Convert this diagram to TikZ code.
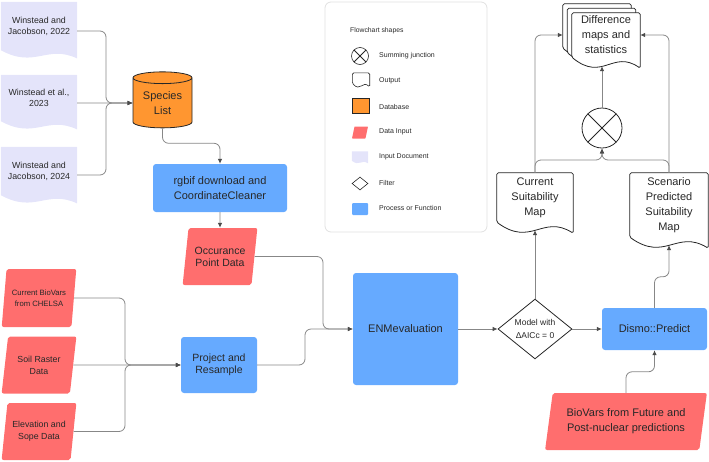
\documentclass[tikz,border=0pt]{standalone}
\usepackage{fontspec}
\setmainfont{Liberation Sans}
\usepackage{xcolor}
\usetikzlibrary{arrows.meta, positioning, shapes.geometric, calc, backgrounds}

\definecolor{procblue}{RGB}{102,170,255}
\definecolor{datared}{RGB}{255,110,110}
\definecolor{dborange}{RGB}{255,150,48}
\definecolor{doclav}{RGB}{228,228,250}
\definecolor{linegray}{RGB}{135,135,135}
\definecolor{tipgray}{RGB}{75,75,75}
\definecolor{legendgray}{RGB}{225,225,225}
\definecolor{textdark}{RGB}{40,40,40}

% wavy-bottom document outline below a node (#1 = wave size, #2 = node, #3 = look)
\newcommand{\docshape}[3][1]{%
  \path[#3] (#2.south west) -- (#2.north west) -- (#2.north east)
    -- ([yshift={-11pt*#1}]#2.south east)
    .. controls ($(#2.south west)!.6!(#2.south east)+(0,{-8*#1})$)
    and ($(#2.south west)!.45!(#2.south east)+(0,{25*#1})$) .. (#2.south west) -- cycle;}

\begin{document}
\begin{tikzpicture}[
    x=1pt, y=-1pt,
    font=\fontsize{11}{15}\selectfont, text=textdark,
    indoc/.style={rectangle, inner sep=0pt, minimum width=76pt, align=center, font=\fontsize{8.8}{11}\selectfont},
    outdoc/.style={rectangle, inner sep=0pt, align=center},
    proc/.style={rectangle, fill=procblue, rounded corners=3pt, inner sep=0pt, align=center},
    datain/.style={trapezium, trapezium left angle=77, trapezium right angle=103, trapezium stretches=true,
        fill=datared, rounded corners=2pt, inner sep=1pt, align=center},
    db/.style={cylinder, shape border rotate=90, aspect=0.3, draw=black!85, line width=0.8pt,
        cylinder uses custom fill, cylinder body fill=dborange, cylinder end fill=dborange, inner sep=0pt, align=center},
    filter/.style={diamond, draw=black!85, line width=0.8pt, fill=white, inner sep=0pt, align=center},
    sumj/.style={circle, draw=black!85, line width=0.8pt, inner sep=0pt,
        path picture={\draw[black!85, line width=0.8pt] (path picture bounding box.north west) -- (path picture bounding box.south east)
            (path picture bounding box.north east) -- (path picture bounding box.south west);}},
    lavdoc/.style={fill=doclav},
    whitedoc/.style={fill=white, draw=black!85, line width=0.8pt, rounded corners=1.5pt},
    lgtext/.style={anchor=west, inner sep=0pt, font=\fontsize{7}{8}\selectfont},
    conn/.style={draw=linegray, line width=0.8pt, rounded corners=6pt, -{Latex[length=5pt,width=4.5pt,color=tipgray]}}
]
\useasboundingbox (0,0) rectangle (709,461);

% Literature documents
\node[indoc, minimum height=48pt] (d1) at (39, 26) {Winstead and\\Jacobson, 2022};
\node[indoc, minimum height=46pt] (d2) at (39, 98) {Winstead et al.,\\2023};
\node[indoc, minimum height=48pt] (d3) at (39, 171) {Winstead and\\Jacobson, 2024};
\node[db, minimum width=59pt, minimum height=56pt] (spec) at (162.5, 103) {Species\\List};
\node[proc, minimum width=134pt, minimum height=48pt] (rgbif) at (220, 188) {rgbif download and\\CoordinateCleaner};
\node[datain, minimum width=75pt, minimum height=57pt, font=\fontsize{10.5}{12}\selectfont] (occ) at (220, 256.5) {Occurance\\Point Data};

% Environmental layers
\node[datain, minimum width=75pt, minimum height=58pt, font=\fontsize{7.7}{10.5}\selectfont] (bio1) at (39, 298) {Current BioVars\\from CHELSA};
\node[datain, minimum width=75pt, minimum height=57pt, font=\fontsize{8.8}{12}\selectfont] (bio2) at (39, 365) {Soil Raster\\Data};
\node[datain, minimum width=75pt, minimum height=57pt, font=\fontsize{8.8}{12}\selectfont] (bio3) at (39, 431.5) {Elevation and\\Sope Data};
\node[proc, minimum width=76pt, minimum height=56pt, font=\fontsize{10.5}{12}\selectfont] (proj) at (219, 365) {Project and\\Resample};

% Modelling
\node[proc, minimum width=105pt, minimum height=112pt] (enm) at (405.5, 329) {ENMevaluation};
\node[filter, minimum width=74pt, minimum height=56pt, font=\fontsize{8.5}{13}\selectfont] (dia) at (535, 329) {Model with\\ΔAICc = 0};
\node[proc, minimum width=105pt, minimum height=42pt] (dismo) at (654.5, 329) {Dismo::Predict};
\node[datain, minimum width=162pt, minimum height=57pt] (fut) at (626, 421.5) {BioVars from Future and\\Post-nuclear predictions};

% Outputs
\node[outdoc, minimum width=76pt, minimum height=49pt] (cur) at (535, 197.5) {Current\\Suitability\\Map};
\node[outdoc, minimum width=78pt, minimum height=64pt] (scen) at (669, 205) {Scenario\\Predicted\\Suitability\\Map};
\node[sumj, minimum size=40pt] (circ) at (602, 128) {};
\node[outdoc, minimum width=68pt, minimum height=44pt] (diffb) at (597, 26) {};
\node[outdoc, minimum width=68pt, minimum height=44pt] (diffm) at (601.5, 30.5) {};
\node[outdoc, minimum width=68pt, minimum height=44pt] (diff) at (606, 35) {Difference\\maps and\\statistics};

% Legend
\node[draw=legendgray, line width=0.8pt, rounded corners=6pt, minimum width=162pt, minimum height=230pt] (legend) at (406, 117) {};
\node[lgtext, font=\fontsize{6.8}{8}\selectfont] (lgtitle) at (350, 31) {Flowchart shapes};
\node[sumj, minimum size=17pt, line width=0.6pt] (lsum) at (360, 56) {};
\node[outdoc, minimum width=17pt, minimum height=10pt] (lout) at (361, 78) {};
\node[db, minimum width=17pt, minimum height=15pt, line width=0.6pt] (ldb) at (361, 106) {};
\node[datain, minimum width=16pt, minimum height=12pt, rounded corners=0.5pt] (ldin) at (360, 132.5) {};
\node[outdoc, minimum width=16pt, minimum height=9pt] (ldoc) at (360, 156) {};
\node[filter, minimum width=16pt, minimum height=13pt, line width=0.6pt] (lfil) at (360, 183.5) {};
\node[proc, minimum width=16pt, minimum height=12pt, rounded corners=1pt] (lproc) at (360, 209) {};
\node[lgtext] (lt1) at (379, 56) {Summing junction};
\node[lgtext] (lt2) at (379, 81) {Output};
\node[lgtext] (lt3) at (379, 107) {Database};
\node[lgtext] (lt4) at (379, 132) {Data Input};
\node[lgtext] (lt5) at (379, 157) {Input Document};
\node[lgtext] (lt6) at (379, 183) {Filter};
\node[lgtext] (lt7) at (379, 208) {Process or Function};

% Document outlines
\begin{scope}[on background layer]
\docshape[0.75]{d1}{lavdoc}
\docshape[0.75]{d2}{lavdoc}
\docshape[0.75]{d3}{lavdoc}
\docshape{cur}{whitedoc}
\docshape{scen}{whitedoc}
\docshape{diffb}{whitedoc}
\docshape{diffm}{whitedoc}
\docshape{diff}{whitedoc}
\docshape[0.35]{lout}{whitedoc, line width=0.6pt}
\docshape[0.25]{ldoc}{lavdoc}
\end{scope}

% Junction points
\coordinate (jdoc) at (106, 103);
\coordinate (jin) at (125, 365);
\coordinate (joc) at (323, 329);
\coordinate (jpr) at (305, 329);
\coordinate (jsum) at (602, 160);

% Arrows
\draw[conn] ([yshift=-5pt]d1.east) -| (jdoc) -- (spec.west);
\draw[conn] ([yshift=-5pt]d2.east) -- (spec.west);
\draw[conn] ([yshift=-4pt]d3.east) -| (jdoc) -- (spec.west);
\draw[conn] (spec.south) -- ++(0, 15) -| (rgbif.north);
\draw[conn] (rgbif.south) -- (occ.north);

\draw[conn] (bio1.east) -| (jin) -- (proj.west);
\draw[conn] (bio2.east) -- (proj.west);
\draw[conn] (bio3.east) -| (jin) -- (proj.west);
\draw[conn] (occ.east) -| (joc) -- (enm.west);
\draw[conn] (proj.east) -| (jpr) -- (enm.west);

\draw[conn] (enm.east) -- (dia.west);
\draw[conn] (dia.east) -- (dismo.west);
\draw[conn] (dia.north) -- ([yshift=-8pt]cur.south);
\draw[conn] (fut.north) -- ++(0, -21) -| (dismo.south);
\draw[conn] (dismo.north) -- ++(0, -31) -| ([yshift=-8pt]scen.south);

\draw[conn] (cur.north) |- (diffb.west |- diff.west);
\draw[conn] (scen.north) |- (diff.east);
\draw[conn] (cur.north) |- (jsum) -- (circ.south);
\draw[conn] (scen.north) |- (jsum) -- (circ.south);
\draw[conn] (circ.north) -- ($(circ.north |- diff.south)+(0, 9)$);
\end{tikzpicture}
\end{document}
